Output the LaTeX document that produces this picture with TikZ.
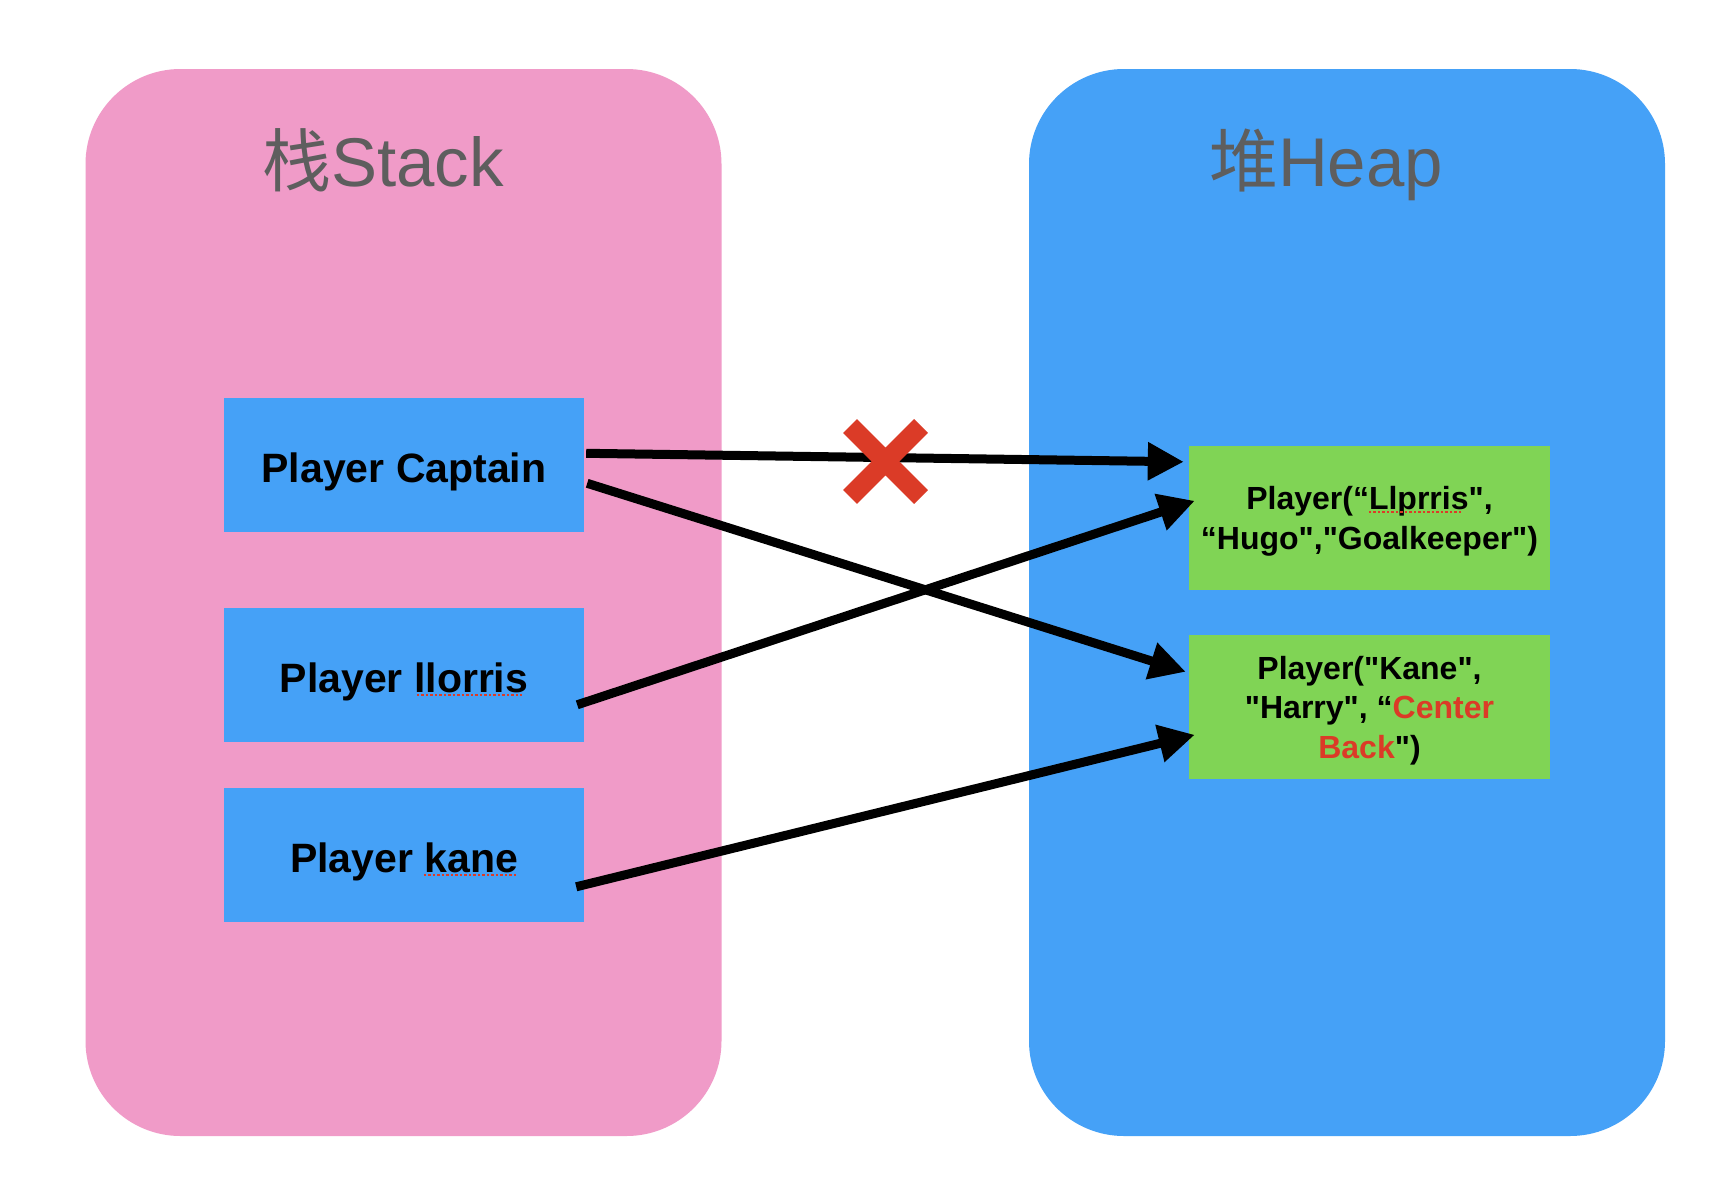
\documentclass[tikz,border=0pt]{standalone}
\usepackage{fontspec}
\setmainfont{Liberation Sans}[Ligatures=TeXOff]
\newfontfamily\cjkfont{Noto Sans CJK SC}
\usetikzlibrary{arrows.meta,calc,shapes.misc}
\definecolor{pinkbg}{HTML}{F09BC8}
\definecolor{bluebg}{HTML}{45A1F7}
\definecolor{objgreen}{HTML}{80D455}
\definecolor{xred}{HTML}{DB3B27}
\definecolor{titlegray}{HTML}{5E5E5E}
\begin{document}
\begin{tikzpicture}[x=1pt,y=-1pt,
  panel/.style={rounded corners=95pt, inner sep=0pt, draw=none, minimum width=636pt, minimum height=1067pt},
  varbox/.style={fill=bluebg, minimum width=360pt, minimum height=134pt, inner sep=0pt,
    text height=35pt, text depth=0pt, font=\fontsize{41}{48}\selectfont\bfseries},
  objbox/.style={fill=objgreen, minimum width=361pt, minimum height=144pt, inner sep=0pt,
    text height=23pt, font=\fontsize{32}{39.5}\selectfont\bfseries},
  titletext/.style={text=titlegray, font=\fontsize{69}{80}\selectfont, anchor=base, inner sep=0pt},
  refarrow/.style={line width=9pt, -{Triangle[length=36pt,width=36pt]}},
  spell/.style={draw=xred, line width=2.5pt, dash pattern=on 2.5pt off 2pt},
  crossmark/.style={cross out, draw=xred, line width=19.5pt, minimum width=71pt, minimum height=71pt, inner sep=0pt, outer sep=0pt}
]
\useasboundingbox (0,0) rectangle (1718,1194);
\fill[white] (0,0) rectangle (1718,1194);

% panels
\node[panel, fill=pinkbg] (stack) at (403.5,602.5) {};
\node[panel, fill=bluebg] (heap) at (1347,602.5) {};

% titles
\node[titletext] (stacktitle) at (383,186) {{\cjkfont 栈}Stack};
\node[titletext] (heaptitle) at (1326,186) {{\cjkfont 堆}Heap};

% stack variables
\node[varbox] (cap) at (404,464.5) {Player Captain};
\node[varbox] (llo) at (404,675) {Player llorris};
\node[varbox] (kan) at (404,855) {Player kane};

% heap objects
\node[objbox, text depth=39.5pt] (g1) at (1369.5,518)
  {\begin{tabular}[t]{@{}c@{}}Player(“Llprris",\\“Hugo","Goalkeeper")\end{tabular}};
\node[objbox, text depth=79pt] (g2) at (1369.5,707)
  {\begin{tabular}[t]{@{}c@{}}Player("Kane",\\"Harry", “{\color{xred}Center}\\{\color{xred}Back}")\end{tabular}};

% spell-check underlines
\draw[spell] ($(llo.north west)+(193,87)$) -- ($(llo.north west)+(298,87)$);
\draw[spell] ($(kan.north west)+(200,87)$) -- ($(kan.north west)+(294,87)$);
\draw[spell] ($(g1.north west)+(180,66)$) -- ($(g1.north west)+(274,66)$);

% references
\draw[refarrow] ($(cap.north east)+(2,56)$) -- ($(g1.north west)+(-5,16)$);
\draw[refarrow] ($(cap.north east)+(3,86)$) -- ($(g2.north west)+(-3,37)$);
\draw[refarrow] ($(llo.north east)+(-7,97)$) -- ($(g1.north west)+(6,55)$);
\draw[refarrow] ($(kan.north east)+(-8,99)$) -- ($(g2.north west)+(6,100)$);

% cross mark
\node[crossmark] (xmark) at (885.5,461.5) {};
\end{tikzpicture}
\end{document}
